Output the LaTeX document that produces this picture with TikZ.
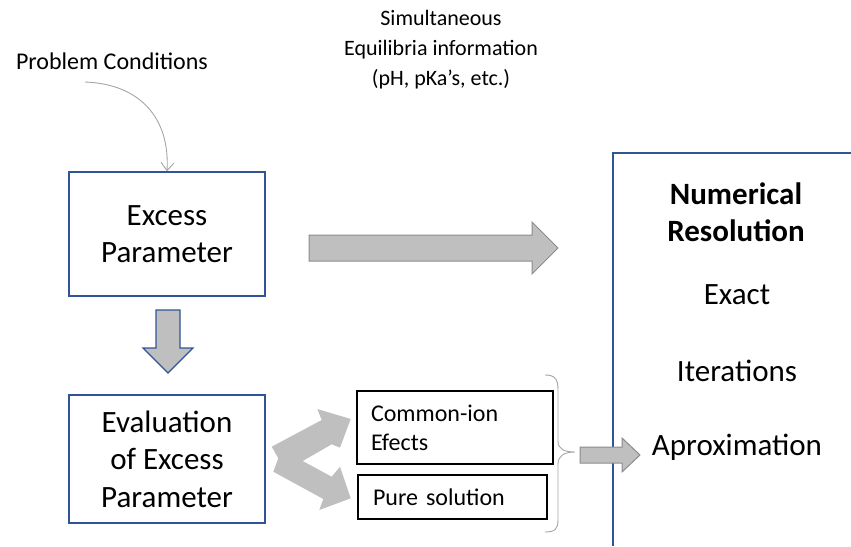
\documentclass[tikz,border=0pt]{standalone}
\usepackage{fontspec}
\setmainfont{Carlito}
\usetikzlibrary{arrows.meta}
\definecolor{boxblue}{RGB}{47,85,151}
\definecolor{arrowfill}{RGB}{191,191,191}
\definecolor{arrowline}{RGB}{140,140,140}
\definecolor{curvegray}{RGB}{165,165,165}
\tikzset{
  toplabel/.style={font=\fontsize{22}{30}\selectfont, align=center, inner sep=0pt},
  bluebox/.style={draw=boxblue, line width=1.3pt, align=center, inner sep=0pt,
    font=\fontsize{31}{37.5}\selectfont},
  blackbox/.style={draw=black, line width=1.3pt, align=left, inner sep=0pt,
    font=\fontsize{24}{29}\selectfont},
  restext/.style={font=\fontsize{31}{37}\selectfont, align=center, inner sep=0pt},
  blockarrow/.style={fill=arrowfill, draw=arrowline, line width=1pt},
}
\begin{document}
\begin{tikzpicture}[x=1pt,y=-1pt]
\useasboundingbox (0,0) rectangle (851,546);

% labels above the boxes
\node[toplabel, font=\fontsize{24}{30}\selectfont] (pc) at (112,61) {Problem Conditions};
\node[toplabel] (sim) at (441,50) {Simultaneous\\Equilibria information\\(pH, pKa’s, etc.)};

% left column boxes
\node[bluebox, minimum width=196pt, minimum height=124pt] (ep) at (167,234) {Excess\\Parameter};
\node[bluebox, minimum width=196pt, minimum height=128pt] (ev) at (167,459) {Evaluation\\of Excess\\Parameter};

% the two cases
\node[blackbox, minimum width=196pt, minimum height=73pt, text width=168pt] (ci) at (455,427.5) {Common-ion\\Efects};
\node[blackbox, minimum width=189pt, minimum height=44pt, text width=159pt] (ps) at (452.5,497) {Pure solution};

% numerical resolution panel, open to the right and bottom
\draw[boxblue, line width=1.3pt] (613,546) -- (613,153) -- (851,153);
\node[restext, font=\fontsize{31}{37}\selectfont\bfseries] (nr) at (736,212) {Numerical\\Resolution};
\node[restext] (ex) at (737,295) {Exact};
\node[restext] (it) at (737,371) {Iterations};
\node[restext] (ap) at (737,447) {Aproximation};

% curved connector from the problem conditions
\coordinate (pcstart) at (85,82);
\draw[curvegray, line width=0.9pt, -{Straight Barb[length=8pt,width=13pt]}]
  (pcstart) .. controls (140,84) and (170,118) .. (ep.north);

% block arrow down
\draw[fill=arrowfill, draw=boxblue, line width=1.2pt]
  (156,310) -- (180,310) -- (180,348) -- (193,348) -- (168,373) -- (143,348) -- (156,348) -- cycle;

% block arrow to the right
\draw[blockarrow]
  (309,235) -- (532,235) -- (532,222) -- (558,248) -- (532,274) -- (532,261) -- (309,261) -- cycle;

% split arrow towards the two cases
\fill[arrowfill]
  (271.7,446.7) -- (321.7,420) -- (317.3,409) -- (350.7,419) -- (340,447.7) -- (331.7,444.3)
  -- (302.7,461) -- (331.7,476.7) -- (340,466.7) -- (350.7,498.3) -- (319.3,510) -- (323.3,499)
  -- (273.3,471.7) -- (278.3,458.3) -- cycle;

% brace grouping the cases
\draw[curvegray, line width=0.9pt]
  (545,375) .. controls (555,375) and (558,379) .. (558,390) -- (558,441)
  .. controls (558,449) and (564,452) .. (575,452)
  .. controls (564,452) and (558,456) .. (558,464) -- (558,520)
  .. controls (558,529) and (555,532) .. (545,532);

% small arrow into the panel
\draw[blockarrow]
  (580,447) -- (622,447) -- (622,438) -- (640,455) -- (622,472) -- (622,463) -- (580,463) -- cycle;
\end{tikzpicture}
\end{document}
